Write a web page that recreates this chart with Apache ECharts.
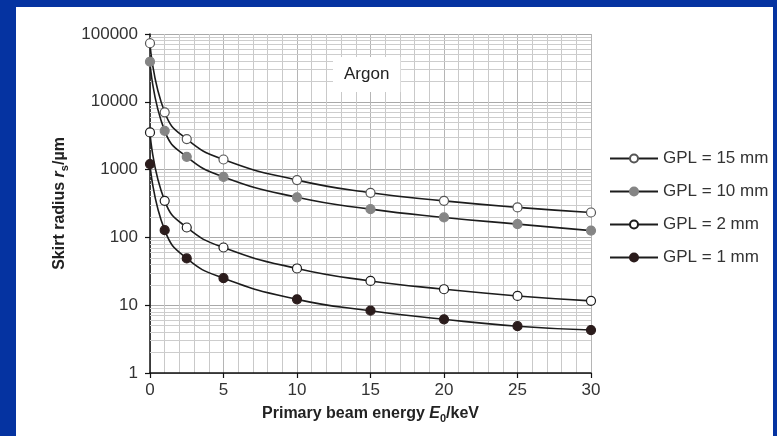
<!DOCTYPE html>
<html>
<head>
<meta charset="utf-8">
<script src="https://cdn.jsdelivr.net/npm/echarts@6/dist/echarts.min.js"></script>
<style>
  html, body { margin: 0; padding: 0; width: 777px; height: 436px; overflow: hidden; background: #0533a1; }
  #panel { position: absolute; left: 16px; top: 7px; width: 757px; height: 429px; background: #ffffff; }
  #chart { position: absolute; left: 0; top: 0; width: 777px; height: 436px; }
</style>
</head>
<body>
<div id="panel"></div>
<div id="chart"></div>
<script>
// Primary beam energy (keV) at which the skirt radius was evaluated
const energies = [0, 1, 2.5, 5, 10, 15, 20, 25, 30];

// Skirt radius (µm) for each gas path length in argon
const gpl15 = [73000, 7000, 2820, 1410, 700, 455, 346, 277, 233];
const gpl10 = [39000, 3730, 1545, 780, 390, 261, 197, 157, 126];
const gpl2  = [3540, 346, 140, 71, 34.8, 22.8, 17.2, 13.7, 11.6];
const gpl1  = [1205, 128, 49, 25, 12.2, 8.3, 6.2, 4.9, 4.3];

const seriesNames = ['GPL = 15 mm', 'GPL = 10 mm', 'GPL = 2 mm', 'GPL = 1 mm'];
const xTicks = [0, 5, 10, 15, 20, 25, 30];
const yDecades = [1, 10, 100, 1000, 10000, 100000];

const FONT = '"Liberation Sans", Arial, Helvetica, sans-serif';

// 2..9 × each decade, for the log-paper horizontal grid
const minorGrid = [];
yDecades.slice(0, -1).forEach(d => {
  for (let k = 2; k <= 9; k++) minorGrid.push(k * d);
});

const pairs = vals => energies.map((e, i) => [e, vals[i]]);

function curve(name, vals, fill, border) {
  return {
    name: name,
    type: 'line',
    data: pairs(vals),
    smooth: 0.5,
    symbol: 'circle',
    symbolSize: 9,
    z: 3,
    lineStyle: { color: '#1c1c1c', width: 1.6 },
    itemStyle: { color: fill, borderColor: border, borderWidth: 1.2 },
    emphasis: { disabled: true },
    animation: false
  };
}

const bold = { fontFamily: FONT, fontSize: 16, fontWeight: 'bold', color: '#222', lineHeight: 20 };
const boldItalic = Object.assign({}, bold, { fontStyle: 'italic' });
const sub = Object.assign({}, bold, { fontSize: 11, lineHeight: 11, verticalAlign: 'bottom' });

const chart = echarts.init(document.getElementById('chart'), null, { renderer: 'canvas' });

chart.setOption({
  backgroundColor: 'transparent',
  animation: false,
  textStyle: { fontFamily: FONT },
  grid: { left: 150, right: 186, top: 34, bottom: 63, containLabel: false },
  legend: {
    data: seriesNames,
    orient: 'vertical',
    left: 609,
    top: 150,
    padding: 0,
    itemWidth: 48,
    itemHeight: 10,
    itemGap: 16,
    selectedMode: false,
    textStyle: { fontFamily: FONT, fontSize: 17, color: '#333' }
  },
  xAxis: {
    type: 'value',
    min: 0,
    max: 30,
    interval: 5,
    name: '{b|Primary beam energy }{i|E}{s|0}{b|/keV}',
    nameLocation: 'middle',
    nameGap: 31,
    nameTextStyle: { rich: { b: bold, i: boldItalic, s: sub } },
    axisLine: { show: true, onZero: false, lineStyle: { color: '#111', width: 1.5 } },
    axisTick: { show: true, inside: false, length: 5, lineStyle: { color: '#111', width: 1.2 } },
    axisLabel: { fontSize: 17, color: '#333', margin: 9, fontFamily: FONT,
      formatter: v => xTicks.includes(v) ? String(v) : '' },
    splitLine: { show: true, lineStyle: { color: '#b5b5b5', width: 1 } },
    minorTick: { show: false, splitNumber: 5 },
    minorSplitLine: { show: true, lineStyle: { color: '#c9c9c9', width: 1 } }
  },
  yAxis: {
    type: 'log',
    logBase: 10,
    min: 1,
    max: 100000,
    name: '{b|Skirt radius }{i|r}{s|s}{b|/µm}',
    nameLocation: 'middle',
    nameRotate: 90,
    nameGap: 80,
    nameTextStyle: { rich: { b: bold, i: boldItalic, s: sub } },
    axisLine: { show: true, lineStyle: { color: '#111', width: 1.5 } },
    axisTick: { show: true, inside: false, length: 5, lineStyle: { color: '#111', width: 1.2 } },
    axisLabel: { fontSize: 17, color: '#333', margin: 12, fontFamily: FONT,
      formatter: v => String(Math.round(v)) },
    splitLine: { show: true, lineStyle: { color: '#a9a9a9', width: 1 } }
  },
  graphic: [{
    type: 'text',
    left: 333,
    top: 57,
    z: 100,
    silent: true,
    style: {
      text: 'Argon',
      fontFamily: FONT,
      fontSize: 17,
      fill: '#222',
      backgroundColor: '#ffffff',
      padding: [9, 11, 9, 11]
    }
  }],
  series: [
    {
      name: 'log grid',
      type: 'line',
      data: [],
      silent: true,
      z: 1,
      animation: false,
      markLine: {
        silent: true,
        z: 1,
        animation: false,
        symbol: ['none', 'none'],
        label: { show: false },
        emphasis: { disabled: true },
        lineStyle: { color: '#cdcdcd', width: 1, type: 'solid' },
        data: minorGrid.map(v => ({ yAxis: v }))
      }
    },
    curve(seriesNames[0], gpl15, '#ffffff', '#555555'),
    curve(seriesNames[1], gpl10, '#858585', '#858585'),
    curve(seriesNames[2], gpl2, '#ffffff', '#1c1c1c'),
    curve(seriesNames[3], gpl1, '#2b1c1c', '#2b1c1c')
  ]
});
</script>
</body>
</html>
